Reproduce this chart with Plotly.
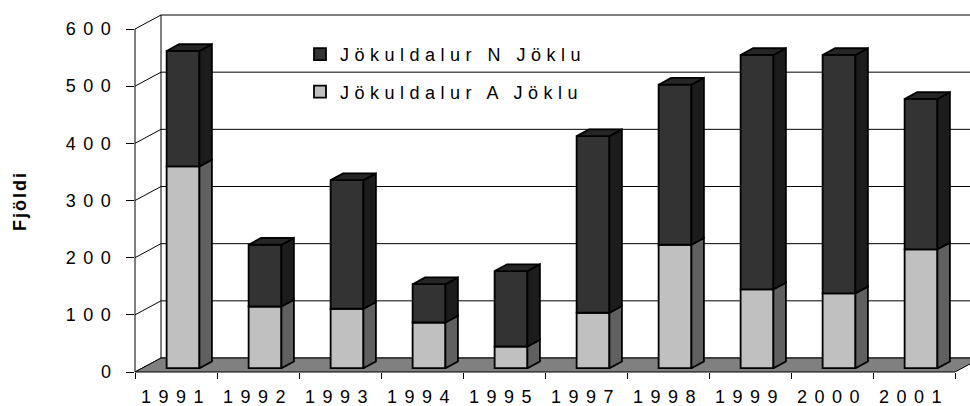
import plotly.graph_objects as go

# ---------------- data ----------------
years = ["1991", "1992", "1993", "1994", "1995", "1997", "1998", "1999", "2000", "2001"]
jokla_a = [353, 108, 104, 80, 38, 97, 216, 138, 131, 208]     # Jökuldalur A Jöklu (lower, light)
jokla_n = [202, 108, 225, 67, 132, 309, 280, 410, 417, 263]   # Jökuldalur N Jöklu (upper, dark)
y_ticks = [0, 100, 200, 300, 400, 500, 600]
name_a = "Jökuldalur A Jöklu"
name_n = "Jökuldalur N Jöklu"
y_title = "Fjöldi"

# ---------------- geometry / style ----------------
W, H = 970, 406
ML, MR, MT, MB = 135, 0, 10, 34
CAT_PX = 82
PX_PER_UNIT = 343.0 / 600.0
plot_w = W - ML - MR
plot_h = H - MT - MB
x_max = plot_w / CAT_PX
y_max = plot_h / PX_PER_UNIT
WALL_DX = 26.0 / CAT_PX          # depth offset in category units
WALL_DY = 14.0 / PX_PER_UNIT     # depth offset in value units
FRONT = 0.27                     # bar front face depth fraction
DEPTH = 0.48                     # bar depth fraction
BAR_W = 0.40
FONT = "Liberation Sans, Arial, sans-serif"

LIGHT, LIGHT_SIDE = "#c0c0c0", "#606060"
DARK, DARK_SIDE, DARK_TOP = "#333333", "#1c1c1c", "#262626"
OUTLINE = dict(color="black", width=1.8)

n = len(years)
xc = [i + 0.5 + FRONT * WALL_DX for i in range(n)]
b0 = FRONT * WALL_DY
ddx = DEPTH * WALL_DX
ddy = DEPTH * WALL_DY

fig = go.Figure()

# front faces (library bars)
fig.add_trace(go.Bar(
    x=xc, y=jokla_a, base=[b0] * n, width=BAR_W, name=name_a, legendgroup="a", legendrank=2,
    marker=dict(color=LIGHT, line=OUTLINE), hoverinfo="skip"))
fig.add_trace(go.Bar(
    x=xc, y=jokla_n, base=[b0 + a for a in jokla_a], width=BAR_W, name=name_n, legendgroup="n",
    legendrank=1, marker=dict(color=DARK, line=OUTLINE), hoverinfo="skip"))


def side_poly(lo_vals, hi_vals):
    xs, ys = [], []
    for i in range(n):
        x1 = xc[i] + BAR_W / 2
        lo, hi = lo_vals[i], hi_vals[i]
        xs += [x1, x1 + ddx, x1 + ddx, x1, x1, None]
        ys += [lo, lo + ddy, hi + ddy, hi, lo, None]
    return xs, ys


lo_a = [b0] * n
hi_a = [b0 + a for a in jokla_a]
hi_n = [b0 + a + c for a, c in zip(jokla_a, jokla_n)]

sx, sy = side_poly(lo_a, hi_a)
fig.add_trace(go.Scatter(x=sx, y=sy, fill="toself", fillcolor=LIGHT_SIDE, mode="lines",
                         line=OUTLINE, showlegend=False, hoverinfo="skip"))
sx, sy = side_poly(hi_a, hi_n)
fig.add_trace(go.Scatter(x=sx, y=sy, fill="toself", fillcolor=DARK_SIDE, mode="lines",
                         line=OUTLINE, showlegend=False, hoverinfo="skip"))

tx, ty = [], []
for i in range(n):
    x0 = xc[i] - BAR_W / 2
    x1 = xc[i] + BAR_W / 2
    t = hi_n[i]
    tx += [x0, x0 + ddx, x1 + ddx, x1, x0, None]
    ty += [t, t + ddy, t + ddy, t, t, None]
fig.add_trace(go.Scatter(x=tx, y=ty, fill="toself", fillcolor=DARK_TOP, mode="lines",
                         line=OUTLINE, showlegend=False, hoverinfo="skip"))

# ---------------- walls, floor, grid ----------------
shapes = []
thin = dict(color="black", width=1)
# back wall gridlines
for v in y_ticks:
    shapes.append(dict(type="line", xref="x", yref="y", layer="below",
                       x0=WALL_DX, x1=x_max + 1, y0=v + WALL_DY, y1=v + WALL_DY, line=thin))
# left side wall lines
for v in y_ticks:
    shapes.append(dict(type="line", xref="x", yref="y", layer="below",
                       x0=0, x1=WALL_DX, y0=v, y1=v + WALL_DY, line=thin))
shapes.append(dict(type="line", xref="x", yref="y", layer="below",
                   x0=WALL_DX, x1=WALL_DX, y0=WALL_DY, y1=y_ticks[-1] + WALL_DY, line=thin))
# floor
shapes.append(dict(type="path", xref="x", yref="y", layer="below",
                   path=f"M0,0 L{n},0 L{n + WALL_DX},{WALL_DY} L{WALL_DX},{WALL_DY} Z",
                   fillcolor="#808080", line=thin))
# front axis lines
shapes.append(dict(type="line", xref="paper", yref="y", layer="below",
                   x0=0, x1=0, y0=0, y1=y_ticks[-1], line=thin))
shapes.append(dict(type="line", xref="x", yref="paper", layer="below",
                   x0=0, x1=n, y0=0, y1=0, line=thin))
# legend backdrop
shapes.append(dict(type="rect", xref="paper", yref="paper", layer="below",
                   x0=(299 - ML) / plot_w, x1=(597 - ML) / plot_w,
                   y0=(H - MB - 115) / plot_h, y1=(H - MB - 30) / plot_h,
                   fillcolor="white", line=dict(width=0)))

fig.update_layout(
    width=W, height=H,
    margin=dict(l=ML, r=MR, t=MT, b=MB, autoexpand=False),
    paper_bgcolor="white", plot_bgcolor="rgba(0,0,0,0)",
    barmode="overlay",
    font=dict(family=FONT, size=18, color="black"),
    shapes=shapes,
    showlegend=True,
    legend=dict(x=(300 - ML) / plot_w, xanchor="left",
                y=(H - MB - 36) / plot_h, yanchor="top",
                bgcolor="rgba(0,0,0,0)", borderwidth=0,
                traceorder="grouped", tracegroupgap=11,
                font=dict(family=FONT, size=18, color="black")),
    xaxis=dict(range=[0, x_max], tickmode="array", tickvals=list(range(n + 1)),
               ticktext=years + [""], ticks="outside", ticklen=6, tickcolor="black",
               tickwidth=1, ticklabelshift=CAT_PX // 2, ticklabelstandoff=2,
               automargin=False, showline=False, showgrid=False,
               zeroline=False, tickfont=dict(family=FONT, size=18, color="black"),
               fixedrange=True),
    yaxis=dict(range=[0, y_max], tickmode="array", tickvals=y_ticks,
               ticks="outside", ticklen=8, tickcolor="black", tickwidth=1,
               ticklabelstandoff=4, automargin=False,
               showline=False, showgrid=False, zeroline=False,
               tickfont=dict(family=FONT, size=18, color="black"), fixedrange=True),
    annotations=[dict(text=f"<b>{y_title}</b>", xref="paper", yref="paper",
                      x=(20 - ML) / plot_w, y=(H - MB - 201) / plot_h,
                      xanchor="center", yanchor="middle", textangle=-90, showarrow=False,
                      font=dict(family=FONT, size=18, color="black"))],
)

post = """
var gd = document.getElementById('{plot_id}');
document.body.style.margin = '0';
document.body.style.overflow = 'hidden';
function sp(){
  gd.querySelectorAll('.xtick text, .ytick text').forEach(function(t){ t.style.letterSpacing = '7.5px'; });
  gd.querySelectorAll('.legendtext').forEach(function(t){ t.style.letterSpacing = '5.5px'; });
  gd.querySelectorAll('.annotation-text').forEach(function(t){ t.style.letterSpacing = '2px'; });
  gd.querySelectorAll('.legend [clip-path]').forEach(function(e){ e.removeAttribute('clip-path'); });
}
sp();
gd.on('plotly_afterplot', sp);
"""

fig.write_html("out.html", post_script=post, config={"displayModeBar": False})
